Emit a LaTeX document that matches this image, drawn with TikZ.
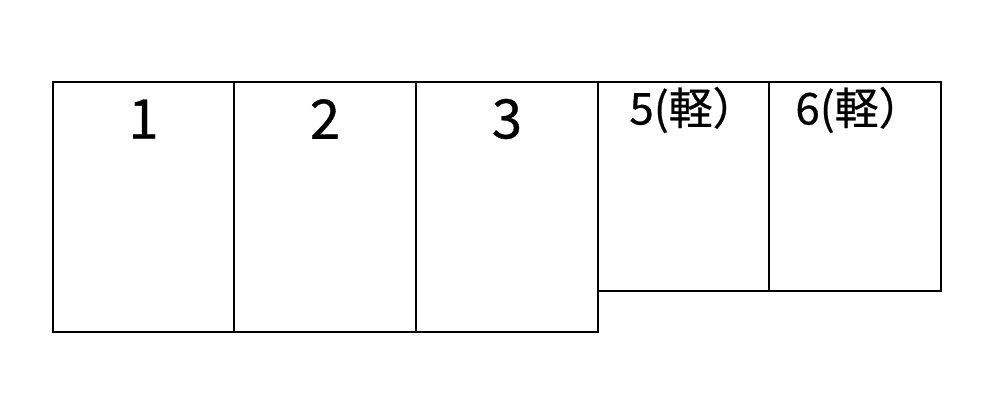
\documentclass[tikz,border=0pt]{standalone}
\usepackage{fontspec}
\setmainfont{Noto Sans CJK JP}[FakeBold=0.6]
\usepackage{tikz}
\usetikzlibrary{positioning}
\tikzset{
  lot/.style={line width=1.3pt,black},
  bignum/.style={inner sep=0pt,font=\fontsize{31}{31}\selectfont},
  smallnum/.style={inner sep=0pt,font=\fontsize{25}{25}\selectfont}
}
\begin{document}
\begin{tikzpicture}
\useasboundingbox (0,0) rectangle (20,8);
\draw[lot] (1.06,1.36) rectangle (4.68,6.36);
\draw[lot] (4.68,1.36) rectangle (8.32,6.36);
\draw[lot] (8.32,1.36) rectangle (11.96,6.36);
\draw[lot] (11.96,2.18) rectangle (15.38,6.36);
\draw[lot] (15.38,2.18) rectangle (18.82,6.36);
\node[bignum] (lot1) at (2.87,5.62) {1};
\node[bignum] (lot2) at (6.50,5.62) {2};
\node[bignum] (lot3) at (10.14,5.62) {3};
\node[smallnum] (lot5) at (13.86,5.80) {5(軽）};
\node[smallnum] (lot6) at (17.18,5.80) {6(軽）};
\end{tikzpicture}
\end{document}
